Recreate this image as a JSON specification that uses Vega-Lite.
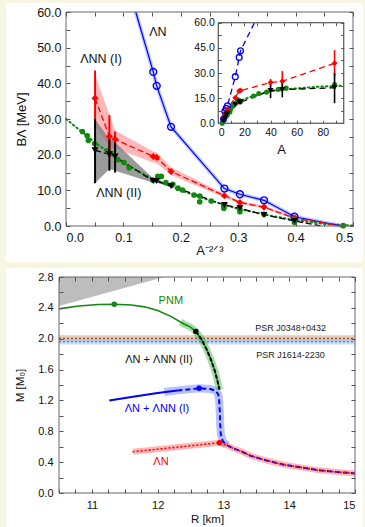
{
 "$schema": "https://vega.github.io/schema/vega-lite/v6.json",
 "background": "#f6f6e2",
 "padding": {"left": 5, "top": 3, "right": 3, "bottom": 0},
 "spacing": 5,
 "config": {
  "view": {"stroke": null},
  "font": "Liberation Sans",
  "axis": {"domain": false, "grid": false, "tickCount": 100, "labelOverlap": false, "tickColor": "#555", "tickSize": -4, "labelColor": "#111", "titleColor": "#111", "titleFontWeight": "normal", "labelFont": "Liberation Sans", "titleFont": "Liberation Sans"}
 },
 "datasets": {
  "calc": [
   {"s":"N","A":17,"x":0.152,"y":43.2},{"s":"N","A":16,"x":0.158,"y":39.3},{"s":"N","A":13,"x":0.183,"y":27.8},{"s":"N","A":7,"x":0.276,"y":10.5},{"s":"N","A":6,"x":0.303,"y":8.9},{"s":"N","A":5,"x":0.345,"y":7.2},{"s":"N","A":4,"x":0.398,"y":2.6},
   {"s":"I","A":89,"x":0.0506,"y":35.8,"lo":28,"hi":43.6},{"s":"I","A":49,"x":0.0756,"y":25.1,"lo":19.2,"hi":31.1},{"s":"I","A":40,"x":0.0855,"y":24.3,"lo":22,"hi":26.5},{"s":"I","A":17,"x":0.152,"y":19.5},{"s":"I","A":16,"x":0.158,"y":19.2},{"s":"I","A":13,"x":0.183,"y":15.3},{"s":"I","A":7,"x":0.276,"y":8.5},{"s":"I","A":6,"x":0.303,"y":6.6},{"s":"I","A":5,"x":0.345,"y":5.3},{"s":"I","A":4,"x":0.398,"y":2.2},
   {"s":"II","A":89,"x":0.0506,"y":21.2,"lo":12,"hi":30},{"s":"II","A":49,"x":0.0756,"y":20.1,"lo":15.5,"hi":24.7},{"s":"II","A":40,"x":0.0855,"y":19.5,"lo":15,"hi":23.5},{"s":"II","A":17,"x":0.152,"y":12.6},{"s":"II","A":16,"x":0.158,"y":12.6},{"s":"II","A":13,"x":0.183,"y":11.2},{"s":"II","A":7,"x":0.276,"y":5.9},{"s":"II","A":6,"x":0.303,"y":5.0},{"s":"II","A":5,"x":0.345,"y":3.1},{"s":"II","A":4,"x":0.398,"y":1.4}
  ],
  "mainLines": [
   {"s":"N","x":0.1215,"y":60},{"s":"N","x":0.152,"y":43.2},{"s":"N","x":0.158,"y":39.3},{"s":"N","x":0.183,"y":27.8},{"s":"N","x":0.276,"y":10.5},{"s":"N","x":0.303,"y":8.9},{"s":"N","x":0.345,"y":7.2},{"s":"N","x":0.398,"y":2.6},{"s":"N","x":0.481,"y":0},
   {"s":"I","x":0.0506,"y":35.8},{"s":"I","x":0.0756,"y":25.1},{"s":"I","x":0.0855,"y":24.3},{"s":"I","x":0.152,"y":19.5},{"s":"I","x":0.158,"y":19.2},{"s":"I","x":0.183,"y":15.3},{"s":"I","x":0.276,"y":8.5},{"s":"I","x":0.303,"y":6.6},{"s":"I","x":0.345,"y":5.3},{"s":"I","x":0.398,"y":2.2},{"s":"I","x":0.481,"y":0},
   {"s":"II","x":0.0506,"y":21.2},{"s":"II","x":0.0756,"y":20.1},{"s":"II","x":0.0855,"y":19.5},{"s":"II","x":0.152,"y":12.6},{"s":"II","x":0.158,"y":12.6},{"s":"II","x":0.183,"y":11.2},{"s":"II","x":0.276,"y":5.9},{"s":"II","x":0.303,"y":5.0},{"s":"II","x":0.345,"y":3.1},{"s":"II","x":0.398,"y":1.4},{"s":"II","x":0.445,"y":0}
  ],
  "insetLines": [
   {"s":"N","A":3,"y":0},{"s":"N","A":4,"y":2.6},{"s":"N","A":5,"y":7.2},{"s":"N","A":6,"y":8.9},{"s":"N","A":7,"y":10.5},{"s":"N","A":13,"y":27.8},{"s":"N","A":16,"y":39.3},{"s":"N","A":17,"y":43.2},{"s":"N","A":27.7,"y":60},
   {"s":"I","A":3,"y":0},{"s":"I","A":4,"y":2.2},{"s":"I","A":5,"y":5.3},{"s":"I","A":6,"y":6.6},{"s":"I","A":7,"y":8.5},{"s":"I","A":13,"y":15.3},{"s":"I","A":16,"y":19.2},{"s":"I","A":17,"y":19.5},{"s":"I","A":40,"y":24.3},{"s":"I","A":49,"y":25.1},{"s":"I","A":89,"y":35.8},
   {"s":"II","A":3.4,"y":0},{"s":"II","A":4,"y":1.4},{"s":"II","A":5,"y":3.1},{"s":"II","A":6,"y":5.0},{"s":"II","A":7,"y":5.9},{"s":"II","A":13,"y":11.2},{"s":"II","A":16,"y":12.6},{"s":"II","A":17,"y":12.6},{"s":"II","A":40,"y":19.5},{"s":"II","A":49,"y":20.1},{"s":"II","A":89,"y":21.2}
  ],
  "exp": [
   {"A":208,"x":0.0285,"y":26.5},{"A":140,"x":0.037,"y":25.3},{"A":130,"x":0.039,"y":24.0},{"A":89,"x":0.050,"y":23.1},{"A":52,"x":0.072,"y":21.0},{"A":46,"x":0.078,"y":20.3},{"A":37,"x":0.090,"y":18.6},{"A":31,"x":0.101,"y":17.8},{"A":27,"x":0.110,"y":16.3},{"A":17,"x":0.151,"y":12.9},{"A":15.6,"x":0.160,"y":13.9},{"A":14.8,"x":0.166,"y":13.9},{"A":13.8,"x":0.174,"y":12.2},{"A":12.5,"x":0.186,"y":11.7},{"A":11.6,"x":0.195,"y":10.6},{"A":10.9,"x":0.203,"y":10.1},{"A":9.5,"x":0.223,"y":8.7},{"A":8.9,"x":0.233,"y":8.4},{"A":8.9,"x":0.233,"y":6.8},{"A":7.9,"x":0.253,"y":7.0},{"A":6.9,"x":0.275,"y":5.6},{"A":6.9,"x":0.275,"y":5.0},{"A":6.0,"x":0.303,"y":4.7},{"A":6.0,"x":0.303,"y":4.0},{"A":4.9,"x":0.345,"y":3.3},{"A":4.0,"x":0.398,"y":2.2},{"A":4.0,"x":0.398,"y":1.0},{"A":3.0,"x":0.483,"y":0.1}
  ],
  "fitMain": [
   {"x":0,"y":30},{"x":0.05,"y":23.5},{"x":0.1,"y":17.6},{"x":0.15,"y":13.3},{"x":0.2,"y":10.0},{"x":0.25,"y":7.2},{"x":0.3,"y":4.8},{"x":0.35,"y":3.1},{"x":0.4,"y":1.6},{"x":0.45,"y":0.6},{"x":0.5,"y":0.1}
  ],
  "fitInset": [
   {"A":2.8,"y":0},{"A":4,"y":1.7},{"A":5,"y":3.3},{"A":6,"y":4.8},{"A":8,"y":7.3},{"A":12,"y":10.8},{"A":17,"y":13.6},{"A":25,"y":15.9},{"A":38,"y":18.9},{"A":56,"y":20.6},{"A":76,"y":21.8},{"A":95.5,"y":22.4}
  ],
  "bands": [
   {"s":"I","x":0.0506,"lo":28,"hi":42.5},{"s":"I","x":0.0756,"lo":22.5,"hi":31.1},{"s":"I","x":0.0855,"lo":21.8,"hi":26.8},{"s":"I","x":0.152,"lo":17.8,"hi":20.9},{"s":"I","x":0.158,"lo":17.6,"hi":20.6},{"s":"I","x":0.183,"lo":14.3,"hi":16.5},{"s":"I","x":0.276,"lo":8.0,"hi":9.0},{"s":"I","x":0.303,"lo":6.2,"hi":7.0},{"s":"I","x":0.345,"lo":4.9,"hi":5.7},{"s":"I","x":0.398,"lo":1.9,"hi":2.5},{"s":"I","x":0.481,"lo":0,"hi":0},
   {"s":"II","x":0.0506,"lo":12,"hi":30},{"s":"II","x":0.0756,"lo":16,"hi":24.4},{"s":"II","x":0.0855,"lo":15.5,"hi":23.5},{"s":"II","x":0.152,"lo":12.1,"hi":13.3},{"s":"II","x":0.158,"lo":12.1,"hi":13.2},{"s":"II","x":0.183,"lo":10.9,"hi":11.5}
  ],
  "ns": [
   {"s":"P","i":1,"R":10.5,"M":2.387},{"s":"P","i":2,"R":10.8,"M":2.425},{"s":"P","i":3,"R":11.1,"M":2.443},{"s":"P","i":4,"R":11.34,"M":2.447},{"s":"P","i":5,"R":11.6,"M":2.437},{"s":"P","i":6,"R":11.8,"M":2.413},{"s":"P","i":7,"R":12.0,"M":2.365},{"s":"P","i":8,"R":12.2,"M":2.29},{"s":"P","i":9,"R":12.4,"M":2.19},{"s":"P","i":10,"R":12.5,"M":2.15},{"s":"P","i":11,"R":12.58,"M":2.095},{"s":"P","i":12,"R":12.66,"M":2.0},{"s":"P","i":13,"R":12.74,"M":1.87},{"s":"P","i":14,"R":12.81,"M":1.73},{"s":"P","i":15,"R":12.87,"M":1.58},{"s":"P","i":16,"R":12.91,"M":1.45},{"s":"P","i":17,"R":12.94,"M":1.34},
   {"s":"Pb","i":1,"R":12.35,"M":2.215},{"s":"Pb","i":2,"R":12.4,"M":2.19},{"s":"Pb","i":3,"R":12.5,"M":2.15},{"s":"Pb","i":4,"R":12.58,"M":2.095},{"s":"Pb","i":5,"R":12.66,"M":2.0},{"s":"Pb","i":6,"R":12.74,"M":1.87},{"s":"Pb","i":7,"R":12.81,"M":1.73},{"s":"Pb","i":8,"R":12.87,"M":1.58},{"s":"Pb","i":9,"R":12.91,"M":1.45},{"s":"Pb","i":10,"R":12.94,"M":1.34},
   {"s":"II","i":1,"R":12.58,"M":2.095},{"s":"II","i":2,"R":12.66,"M":2.0},{"s":"II","i":3,"R":12.74,"M":1.87},{"s":"II","i":4,"R":12.81,"M":1.73},{"s":"II","i":5,"R":12.87,"M":1.58},{"s":"II","i":6,"R":12.91,"M":1.45},{"s":"II","i":7,"R":12.94,"M":1.34},
   {"s":"Is","i":1,"R":11.265,"M":1.2},{"s":"Is","i":2,"R":11.6,"M":1.245},{"s":"Is","i":3,"R":12.0,"M":1.295},{"s":"Is","i":4,"R":12.3,"M":1.33},
   {"s":"I","i":1,"R":12.3,"M":1.33},{"s":"I","i":2,"R":12.63,"M":1.357},{"s":"I","i":3,"R":12.8,"M":1.348},{"s":"I","i":4,"R":12.88,"M":1.325},{"s":"I","i":5,"R":12.92,"M":1.28},{"s":"I","i":6,"R":12.935,"M":1.2},{"s":"I","i":7,"R":12.945,"M":1.05},{"s":"I","i":8,"R":12.95,"M":0.9},{"s":"I","i":9,"R":12.96,"M":0.76},{"s":"I","i":10,"R":12.99,"M":0.67},{"s":"I","i":11,"R":13.05,"M":0.62},{"s":"I","i":12,"R":13.16,"M":0.575},{"s":"I","i":13,"R":13.27,"M":0.54},{"s":"I","i":14,"R":13.41,"M":0.483},{"s":"I","i":15,"R":13.67,"M":0.418},{"s":"I","i":16,"R":13.92,"M":0.366},{"s":"I","i":17,"R":14.17,"M":0.332},{"s":"I","i":18,"R":14.43,"M":0.297},{"s":"I","i":19,"R":14.68,"M":0.276},{"s":"I","i":20,"R":15.0,"M":0.254},
   {"s":"Ib","i":1,"R":12.1,"M":1.31},{"s":"Ib","i":2,"R":12.3,"M":1.33},{"s":"Ib","i":3,"R":12.63,"M":1.357},{"s":"Ib","i":4,"R":12.8,"M":1.348},{"s":"Ib","i":5,"R":12.88,"M":1.325},{"s":"Ib","i":6,"R":12.92,"M":1.28},{"s":"Ib","i":7,"R":12.935,"M":1.2},{"s":"Ib","i":8,"R":12.945,"M":1.05},{"s":"Ib","i":9,"R":12.95,"M":0.9},{"s":"Ib","i":10,"R":12.96,"M":0.76},{"s":"Ib","i":11,"R":12.99,"M":0.67},{"s":"Ib","i":12,"R":13.05,"M":0.62},
   {"s":"N","i":1,"R":11.62,"M":0.535},{"s":"N","i":2,"R":12.0,"M":0.568},{"s":"N","i":3,"R":12.5,"M":0.612},{"s":"N","i":4,"R":12.94,"M":0.652},{"s":"N","i":5,"R":13.05,"M":0.62},{"s":"N","i":6,"R":13.16,"M":0.575},{"s":"N","i":7,"R":13.27,"M":0.54},{"s":"N","i":8,"R":13.41,"M":0.483},{"s":"N","i":9,"R":13.67,"M":0.418},{"s":"N","i":10,"R":13.92,"M":0.366},{"s":"N","i":11,"R":14.17,"M":0.332},{"s":"N","i":12,"R":14.43,"M":0.297},{"s":"N","i":13,"R":14.68,"M":0.276},{"s":"N","i":14,"R":15.0,"M":0.254}
  ],
  "nsPts": [
   {"s":"P","R":11.34,"M":2.447},{"s":"II","R":12.58,"M":2.095},{"s":"I","R":12.63,"M":1.357},{"s":"N","R":12.94,"M":0.652}
  ]
 },
 "vconcat": [
  {
   "width": 287, "height": 214,
   "resolve": {"scale": {"x": "independent", "y": "independent"}},
   "layer": [
    {
     "resolve": {"axis": {"x": "independent", "y": "independent"}},
     "layer": [
      {
       "layer": [
        {"data": {"values": [{}]}, "mark": {"type": "rect", "fill": "white"},
         "encoding": {
          "x": {"datum": -0.1045, "type": "quantitative", "scale": {"domain": [0, 0.5], "nice": false, "zero": false},
                "axis": {"zindex": 1, "orient": "bottom", "ticks": false, "tickCount": 100, "labelOverlap": false, "title": "A⁻²ᐟ³", "values": [0, 0.1, 0.2, 0.3, 0.4, 0.5], "format": ".1f",
                         "labelFontSize": 12.5, "titleFontSize": 13, "labelPadding": 5, "titlePadding": 1}},
          "x2": {"datum": 0.5174},
          "y": {"datum": -10.09, "type": "quantitative", "scale": {"domain": [0, 60], "nice": false, "zero": false},
                "axis": {"zindex": 1, "orient": "left", "ticks": false, "tickCount": 100, "labelOverlap": false, "title": "BΛ [MeV]", "values": [0, 10, 20, 30, 40, 50, 60], "format": ".1f",
                         "labelFontSize": 12.5, "titleFontSize": 13, "labelPadding": 5, "titlePadding": 8}},
          "y2": {"datum": 62.52}
         }},
        {"data": {"name": "bands"}, "transform": [{"filter": "datum.s == 'I'"}], "mark": {"type": "area", "color": "#ff3030", "opacity": 0.35},
         "encoding": {"x": {"field": "x", "type": "quantitative"}, "y": {"field": "lo", "type": "quantitative"}, "y2": {"field": "hi"}}},
        {"data": {"name": "bands"}, "transform": [{"filter": "datum.s == 'II'"}], "mark": {"type": "area", "color": "#7a7a7a", "opacity": 0.75},
         "encoding": {"x": {"field": "x", "type": "quantitative"}, "y": {"field": "lo", "type": "quantitative"}, "y2": {"field": "hi"}}},
        {"data": {"name": "mainLines"}, "transform": [{"filter": "datum.s == 'N'"}], "mark": {"type": "line", "color": "#8aa0ff", "strokeWidth": 4, "opacity": 0.55},
         "encoding": {"x": {"field": "x", "type": "quantitative"}, "y": {"field": "y", "type": "quantitative"}}},
        {"data": {"name": "fitMain"}, "mark": {"type": "line", "color": "#118811", "strokeWidth": 2, "strokeDash": [1.5, 3], "strokeCap": "round"},
         "encoding": {"x": {"field": "x", "type": "quantitative"}, "y": {"field": "y", "type": "quantitative"}}},
        {"data": {"name": "mainLines"}, "transform": [{"filter": "datum.s == 'N'"}], "mark": {"type": "line", "color": "#0000ff", "strokeWidth": 1.2},
         "encoding": {"x": {"field": "x", "type": "quantitative"}, "y": {"field": "y", "type": "quantitative"}}},
        {"data": {"name": "mainLines"}, "transform": [{"filter": "datum.s == 'I'"}], "mark": {"type": "line", "color": "#ff0000", "strokeWidth": 1.3, "strokeDash": [6, 3]},
         "encoding": {"x": {"field": "x", "type": "quantitative"}, "y": {"field": "y", "type": "quantitative"}}},
        {"data": {"name": "mainLines"}, "transform": [{"filter": "datum.s == 'II'"}], "mark": {"type": "line", "color": "#000000", "strokeWidth": 1.3, "strokeDash": [6, 3], "clip": true},
         "encoding": {"x": {"field": "x", "type": "quantitative"}, "y": {"field": "y", "type": "quantitative"}}},
        {"data": {"name": "exp"}, "mark": {"type": "point", "shape": "circle", "filled": true, "color": "#118811", "size": 32, "opacity": 1},
         "encoding": {"x": {"field": "x", "type": "quantitative"}, "y": {"field": "y", "type": "quantitative"}}},
        {"data": {"name": "calc"}, "transform": [{"filter": "datum.s == 'I' && isValid(datum.lo)"}], "mark": {"type": "rule", "color": "#ff0000", "strokeWidth": 2},
         "encoding": {"x": {"field": "x", "type": "quantitative"}, "y": {"field": "lo", "type": "quantitative"}, "y2": {"field": "hi"}}},
        {"data": {"name": "calc"}, "transform": [{"filter": "datum.s == 'II' && isValid(datum.lo)"}], "mark": {"type": "rule", "color": "#000000", "strokeWidth": 2},
         "encoding": {"x": {"field": "x", "type": "quantitative"}, "y": {"field": "lo", "type": "quantitative"}, "y2": {"field": "hi"}}},
        {"data": {"name": "calc"}, "transform": [{"filter": "datum.s == 'N'"}], "mark": {"type": "point", "shape": "circle", "filled": false, "color": "#0000ff", "size": 48, "strokeWidth": 1.4, "opacity": 1},
         "encoding": {"x": {"field": "x", "type": "quantitative"}, "y": {"field": "y", "type": "quantitative"}}},
        {"data": {"name": "calc"}, "transform": [{"filter": "datum.s == 'I'"}], "mark": {"type": "point", "shape": "diamond", "filled": true, "color": "#ff0000", "size": 50, "opacity": 1},
         "encoding": {"x": {"field": "x", "type": "quantitative"}, "y": {"field": "y", "type": "quantitative"}}},
        {"data": {"name": "calc"}, "transform": [{"filter": "datum.s == 'II'"}], "mark": {"type": "point", "shape": "triangle-down", "filled": true, "color": "#000000", "size": 50, "opacity": 1},
         "encoding": {"x": {"field": "x", "type": "quantitative"}, "y": {"field": "y", "type": "quantitative"}}},
        {"data": {"values": [{"t": "ΛN", "x": 0.160, "y": 54.4}, {"t": "ΛNN (I)", "x": 0.061, "y": 46.8}, {"t": "ΛNN (II)", "x": 0.092, "y": 9.25}]},
         "mark": {"type": "text", "fontSize": 12.5, "color": "#111"},
         "encoding": {"x": {"field": "x", "type": "quantitative"}, "y": {"field": "y", "type": "quantitative"}, "text": {"field": "t"}}}
       ]
      },
      {"data": {"values": [{}]}, "mark": {"type": "rect", "fillOpacity": 0, "stroke": "#666", "strokeWidth": 1},
       "encoding": {
        "x": {"datum": 0, "type": "quantitative", "axis": {"zindex": 1, "orient": "top", "tickCount": 100, "labels": false, "title": null, "values": [0, 0.05, 0.1, 0.15, 0.2, 0.25, 0.3, 0.35, 0.4, 0.45, 0.5]}},
        "x2": {"datum": 0.5},
        "y": {"datum": 0, "type": "quantitative", "axis": {"zindex": 1, "orient": "right", "tickCount": 100, "labels": false, "title": null, "values": [0, 5, 10, 15, 20, 25, 30, 35, 40, 45, 50, 55, 60]}},
        "y2": {"datum": 60}
       }},
      {"data": {"values": [{}]}, "mark": {"type": "rect", "fillOpacity": 0, "strokeOpacity": 0},
       "encoding": {
        "x": {"datum": 0, "type": "quantitative", "axis": {"zindex": 1, "orient": "bottom", "tickCount": 100, "labels": false, "title": null, "values": [0, 0.05, 0.1, 0.15, 0.2, 0.25, 0.3, 0.35, 0.4, 0.45, 0.5]}},
        "x2": {"datum": 0.5},
        "y": {"datum": 0, "type": "quantitative", "axis": {"zindex": 1, "orient": "left", "tickCount": 100, "labels": false, "title": null, "values": [0, 5, 10, 15, 20, 25, 30, 35, 40, 45, 50, 55, 60]}},
        "y2": {"datum": 60}
       }}
     ]
    },
    {
     "resolve": {"axis": {"x": "independent", "y": "independent"}},
     "layer": [
      {
       "layer": [
        {"data": {"values": [{}]}, "mark": {"type": "rect", "fill": "white", "stroke": "#666", "strokeWidth": 1},
         "encoding": {
          "x": {"datum": 0, "type": "quantitative", "scale": {"domain": [0, 96], "range": [152.3, 277.7], "nice": false, "zero": false},
                "axis": {"zindex": 1, "tickCount": 100, "labelOverlap": false, "orient": "bottom", "offset": -102.7, "title": "A", "values": [0, 10, 20, 30, 40, 50, 60, 70, 80, 90], "format": "d",
                         "labelExpr": "datum.value % 20 == 0 ? datum.label : ''", "tickSize": -3,
                         "labelFontSize": 10.5, "titleFontSize": 13, "labelPadding": 7, "titlePadding": 6}},
          "x2": {"datum": 96},
          "y": {"datum": 0, "type": "quantitative", "scale": {"domain": [0, 60], "range": [111.3, 10.7], "nice": false, "zero": false},
                "axis": {"zindex": 1, "tickCount": 100, "labelOverlap": false, "orient": "left", "offset": -152.3, "title": null, "values": [0, 7.5, 15, 22.5, 30, 37.5, 45, 52.5, 60], "format": ".1f",
                         "labelExpr": "datum.value % 15 == 0 ? datum.label : ''", "tickSize": -3,
                         "labelFontSize": 10.5, "labelPadding": 7}},
          "y2": {"datum": 60}
         }},
        {"data": {"name": "fitInset"}, "mark": {"type": "line", "color": "#118811", "strokeWidth": 2, "strokeDash": [1.5, 3], "strokeCap": "round"},
         "encoding": {"x": {"field": "A", "type": "quantitative"}, "y": {"field": "y", "type": "quantitative"}}},
        {"data": {"name": "insetLines"}, "transform": [{"filter": "datum.s == 'N'"}], "mark": {"type": "line", "color": "#0000ff", "strokeWidth": 1.3, "strokeDash": [6, 4]},
         "encoding": {"x": {"field": "A", "type": "quantitative"}, "y": {"field": "y", "type": "quantitative"}}},
        {"data": {"name": "insetLines"}, "transform": [{"filter": "datum.s == 'I'"}], "mark": {"type": "line", "color": "#ff0000", "strokeWidth": 1.3, "strokeDash": [6, 4]},
         "encoding": {"x": {"field": "A", "type": "quantitative"}, "y": {"field": "y", "type": "quantitative"}}},
        {"data": {"name": "insetLines"}, "transform": [{"filter": "datum.s == 'II'"}], "mark": {"type": "line", "color": "#000000", "strokeWidth": 1.3, "strokeDash": [6, 4]},
         "encoding": {"x": {"field": "A", "type": "quantitative"}, "y": {"field": "y", "type": "quantitative"}}},
        {"data": {"name": "exp"}, "transform": [{"filter": "datum.A <= 96"}], "mark": {"type": "point", "shape": "circle", "filled": true, "color": "#118811", "size": 26, "opacity": 1},
         "encoding": {"x": {"field": "A", "type": "quantitative"}, "y": {"field": "y", "type": "quantitative"}}},
        {"data": {"name": "calc"}, "transform": [{"filter": "datum.s == 'I' && isValid(datum.lo)"}], "mark": {"type": "rule", "color": "#ff0000", "strokeWidth": 1.6},
         "encoding": {"x": {"field": "A", "type": "quantitative"}, "y": {"field": "lo", "type": "quantitative"}, "y2": {"field": "hi"}}},
        {"data": {"name": "calc"}, "transform": [{"filter": "datum.s == 'II' && isValid(datum.lo)"}], "mark": {"type": "rule", "color": "#000000", "strokeWidth": 1.6},
         "encoding": {"x": {"field": "A", "type": "quantitative"}, "y": {"field": "lo", "type": "quantitative"}, "y2": {"field": "hi"}}},
        {"data": {"name": "calc"}, "transform": [{"filter": "datum.s == 'N'"}], "mark": {"type": "point", "shape": "circle", "filled": false, "color": "#0000ff", "size": 34, "strokeWidth": 1.3, "opacity": 1},
         "encoding": {"x": {"field": "A", "type": "quantitative"}, "y": {"field": "y", "type": "quantitative"}}},
        {"data": {"name": "calc"}, "transform": [{"filter": "datum.s == 'I'"}], "mark": {"type": "point", "shape": "diamond", "filled": true, "color": "#ff0000", "size": 36, "opacity": 1},
         "encoding": {"x": {"field": "A", "type": "quantitative"}, "y": {"field": "y", "type": "quantitative"}}},
        {"data": {"name": "calc"}, "transform": [{"filter": "datum.s == 'II'"}], "mark": {"type": "point", "shape": "triangle-down", "filled": true, "color": "#000000", "size": 36, "opacity": 1},
         "encoding": {"x": {"field": "A", "type": "quantitative"}, "y": {"field": "y", "type": "quantitative"}}}
       ]
      },
      {"data": {"values": [{}]}, "mark": {"type": "rect", "fillOpacity": 0, "stroke": "#666", "strokeWidth": 1},
       "encoding": {
        "x": {"datum": 0, "type": "quantitative", "axis": {"zindex": 1, "orient": "top", "tickCount": 100, "offset": -10.7, "labels": false, "title": null, "tickSize": -3, "values": [0, 10, 20, 30, 40, 50, 60, 70, 80, 90]}},
        "x2": {"datum": 96},
        "y": {"datum": 0, "type": "quantitative", "axis": {"zindex": 1, "orient": "right", "tickCount": 100, "offset": -9.3, "labels": false, "title": null, "tickSize": -3, "values": [0, 7.5, 15, 22.5, 30, 37.5, 45, 52.5, 60]}},
        "y2": {"datum": 60}
       }}
     ]
    }
   ]
  },
  {
   "width": 296, "height": 216,
   "resolve": {"axis": {"x": "independent", "y": "independent"}},
   "layer": [
    {
     "layer": [
      {"data": {"values": [{}]}, "mark": {"type": "rect", "fill": "white"},
       "encoding": {
        "x": {"datum": 9.694, "type": "quantitative", "scale": {"domain": [10.5, 15], "range": [-7, 289], "nice": false, "zero": false},
              "axis": {"zindex": 1, "orient": "bottom", "ticks": false, "tickCount": 100, "labelOverlap": false, "title": "R [km]", "values": [11, 12, 13, 14, 15], "format": "d",
                       "labelFontSize": 11, "titleFontSize": 11.5, "labelPadding": 6, "titlePadding": 3}},
        "x2": {"datum": 15.12},
        "y": {"datum": -0.454, "type": "quantitative", "scale": {"domain": [0, 2.8], "nice": false, "zero": false},
              "axis": {"zindex": 1, "orient": "left", "ticks": false, "tickCount": 100, "labelOverlap": false, "offset": 7, "title": "M [M₀]", "values": [0, 0.4, 0.8, 1.2, 1.6, 2.0, 2.4, 2.8], "format": ".1f",
                       "labelFontSize": 11, "titleFontSize": 11.5, "labelPadding": 6, "titlePadding": 12}},
        "y2": {"datum": 2.9167}
       }},
      {"data": {"values": [{"R": 10.5, "M": 2.424}, {"R": 12.1, "M": 2.8}]}, "mark": {"type": "area", "color": "#bdbdbd", "opacity": 1},
       "encoding": {"x": {"field": "R", "type": "quantitative"}, "y": {"field": "M", "type": "quantitative"}, "y2": {"datum": 2.8}}},
      {"data": {"values": [{"lo": 1.965, "hi": 2.045}]}, "mark": {"type": "rect", "color": "#d2a88c", "opacity": 0.6},
       "encoding": {"x": {"datum": 10.5, "type": "quantitative"}, "x2": {"datum": 15}, "y": {"field": "lo", "type": "quantitative"}, "y2": {"field": "hi"}}},
      {"data": {"values": [{"lo": 1.925, "hi": 1.995}]}, "mark": {"type": "rect", "color": "#9cc0f2", "opacity": 0.55},
       "encoding": {"x": {"datum": 10.5, "type": "quantitative"}, "x2": {"datum": 15}, "y": {"field": "lo", "type": "quantitative"}, "y2": {"field": "hi"}}},
      {"data": {"values": [{"M": 2.005}]}, "mark": {"type": "rule", "color": "#7a3a10", "strokeWidth": 1, "strokeDash": [2, 2]},
       "encoding": {"x": {"datum": 10.5, "type": "quantitative"}, "x2": {"datum": 15}, "y": {"field": "M", "type": "quantitative"}}},
      {"data": {"values": [{"M": 1.96}]}, "mark": {"type": "rule", "color": "#2a6ad8", "strokeWidth": 1, "strokeDash": [2, 2]},
       "encoding": {"x": {"datum": 10.5, "type": "quantitative"}, "x2": {"datum": 15}, "y": {"field": "M", "type": "quantitative"}}},
      {"data": {"name": "ns"}, "transform": [{"filter": "datum.s == 'Pb'"}], "mark": {"type": "line", "color": "#22aa22", "strokeWidth": 7, "opacity": 0.4},
       "encoding": {"x": {"field": "R", "type": "quantitative"}, "y": {"field": "M", "type": "quantitative"}, "order": {"field": "i"}}},
      {"data": {"name": "ns"}, "transform": [{"filter": "datum.s == 'Ib'"}], "mark": {"type": "line", "color": "#3050ff", "strokeWidth": 8, "opacity": 0.35},
       "encoding": {"x": {"field": "R", "type": "quantitative"}, "y": {"field": "M", "type": "quantitative"}, "order": {"field": "i"}}},
      {"data": {"name": "ns"}, "transform": [{"filter": "datum.s == 'N'"}], "mark": {"type": "line", "color": "#ff3030", "strokeWidth": 6, "opacity": 0.35},
       "encoding": {"x": {"field": "R", "type": "quantitative"}, "y": {"field": "M", "type": "quantitative"}, "order": {"field": "i"}}},
      {"data": {"name": "ns"}, "transform": [{"filter": "datum.s == 'P'"}], "mark": {"type": "line", "color": "#118811", "strokeWidth": 1.6},
       "encoding": {"x": {"field": "R", "type": "quantitative"}, "y": {"field": "M", "type": "quantitative"}, "order": {"field": "i"}}},
      {"data": {"name": "ns"}, "transform": [{"filter": "datum.s == 'II'"}], "mark": {"type": "line", "color": "#000000", "strokeWidth": 2, "strokeDash": [4, 2]},
       "encoding": {"x": {"field": "R", "type": "quantitative"}, "y": {"field": "M", "type": "quantitative"}, "order": {"field": "i"}}},
      {"data": {"name": "ns"}, "transform": [{"filter": "datum.s == 'Is'"}], "mark": {"type": "line", "color": "#0000ff", "strokeWidth": 2},
       "encoding": {"x": {"field": "R", "type": "quantitative"}, "y": {"field": "M", "type": "quantitative"}, "order": {"field": "i"}}},
      {"data": {"name": "ns"}, "transform": [{"filter": "datum.s == 'I'"}], "mark": {"type": "line", "color": "#0000ff", "strokeWidth": 2, "strokeDash": [5, 3]},
       "encoding": {"x": {"field": "R", "type": "quantitative"}, "y": {"field": "M", "type": "quantitative"}, "order": {"field": "i"}}},
      {"data": {"name": "ns"}, "transform": [{"filter": "datum.s == 'N'"}], "mark": {"type": "line", "color": "#ff0000", "strokeWidth": 1.6, "strokeDash": [2, 2]},
       "encoding": {"x": {"field": "R", "type": "quantitative"}, "y": {"field": "M", "type": "quantitative"}, "order": {"field": "i"}}},
      {"data": {"name": "nsPts"}, "transform": [{"filter": "datum.s == 'P'"}], "mark": {"type": "point", "shape": "circle", "filled": true, "color": "#118811", "size": 30, "opacity": 1},
       "encoding": {"x": {"field": "R", "type": "quantitative"}, "y": {"field": "M", "type": "quantitative"}}},
      {"data": {"name": "nsPts"}, "transform": [{"filter": "datum.s == 'II'"}], "mark": {"type": "point", "shape": "circle", "filled": true, "color": "#000000", "size": 30, "opacity": 1},
       "encoding": {"x": {"field": "R", "type": "quantitative"}, "y": {"field": "M", "type": "quantitative"}}},
      {"data": {"name": "nsPts"}, "transform": [{"filter": "datum.s == 'I'"}], "mark": {"type": "point", "shape": "circle", "filled": true, "color": "#0000ff", "size": 30, "opacity": 1},
       "encoding": {"x": {"field": "R", "type": "quantitative"}, "y": {"field": "M", "type": "quantitative"}}},
      {"data": {"name": "nsPts"}, "transform": [{"filter": "datum.s == 'N'"}], "mark": {"type": "point", "shape": "circle", "filled": true, "color": "#ff0000", "size": 30, "opacity": 1},
       "encoding": {"x": {"field": "R", "type": "quantitative"}, "y": {"field": "M", "type": "quantitative"}}},
      {"data": {"values": [{"t": "PSR J0348+0432", "R": 14.02, "M": 2.14}, {"t": "PSR J1614-2230", "R": 14.02, "M": 1.79}]}, "mark": {"type": "text", "fontSize": 9, "color": "#222"},
       "encoding": {"x": {"field": "R", "type": "quantitative"}, "y": {"field": "M", "type": "quantitative"}, "text": {"field": "t"}}},
      {"data": {"values": [{"t": "PNM", "R": 12.2, "M": 2.49}]}, "mark": {"type": "text", "fontSize": 11, "color": "#118811"},
       "encoding": {"x": {"field": "R", "type": "quantitative"}, "y": {"field": "M", "type": "quantitative"}, "text": {"field": "t"}}},
      {"data": {"values": [{"t": "ΛN + ΛNN (II)", "R": 12.02, "M": 1.73}]}, "mark": {"type": "text", "fontSize": 11, "color": "#111"},
       "encoding": {"x": {"field": "R", "type": "quantitative"}, "y": {"field": "M", "type": "quantitative"}, "text": {"field": "t"}}},
      {"data": {"values": [{"t": "ΛN + ΛNN (I)", "R": 11.99, "M": 1.09}]}, "mark": {"type": "text", "fontSize": 11, "color": "#0000ff"},
       "encoding": {"x": {"field": "R", "type": "quantitative"}, "y": {"field": "M", "type": "quantitative"}, "text": {"field": "t"}}},
      {"data": {"values": [{"t": "ΛN", "R": 12.05, "M": 0.40}]}, "mark": {"type": "text", "fontSize": 11, "color": "#ff0000"},
       "encoding": {"x": {"field": "R", "type": "quantitative"}, "y": {"field": "M", "type": "quantitative"}, "text": {"field": "t"}}}
     ]
    },
    {"data": {"values": [{}]}, "mark": {"type": "rect", "fillOpacity": 0, "stroke": "#666", "strokeWidth": 1},
     "encoding": {
      "x": {"datum": 10.5, "type": "quantitative", "axis": {"zindex": 1, "orient": "top", "tickCount": 100, "labels": false, "title": null, "values": [10.5, 10.75, 11, 11.25, 11.5, 11.75, 12, 12.25, 12.5, 12.75, 13, 13.25, 13.5, 13.75, 14, 14.25, 14.5, 14.75, 15]}},
      "x2": {"datum": 15},
      "y": {"datum": 0, "type": "quantitative", "axis": {"zindex": 1, "orient": "right", "tickCount": 100, "offset": -7, "labels": false, "title": null, "values": [0, 0.2, 0.4, 0.6, 0.8, 1.0, 1.2, 1.4, 1.6, 1.8, 2.0, 2.2, 2.4, 2.6, 2.8]}},
      "y2": {"datum": 2.8}
     }},
    {"data": {"values": [{}]}, "mark": {"type": "rect", "fillOpacity": 0, "strokeOpacity": 0},
     "encoding": {
      "x": {"datum": 10.5, "type": "quantitative", "axis": {"zindex": 1, "orient": "bottom", "tickCount": 100, "labels": false, "title": null, "values": [10.5, 10.75, 11, 11.25, 11.5, 11.75, 12, 12.25, 12.5, 12.75, 13, 13.25, 13.5, 13.75, 14, 14.25, 14.5, 14.75, 15]}},
      "x2": {"datum": 15},
      "y": {"datum": 0, "type": "quantitative", "axis": {"zindex": 1, "orient": "left", "tickCount": 100, "offset": 7, "labels": false, "title": null, "values": [0, 0.2, 0.4, 0.6, 0.8, 1.0, 1.2, 1.4, 1.6, 1.8, 2.0, 2.2, 2.4, 2.6, 2.8]}},
      "y2": {"datum": 2.8}
     }}
   ]
  }
 ]
}
